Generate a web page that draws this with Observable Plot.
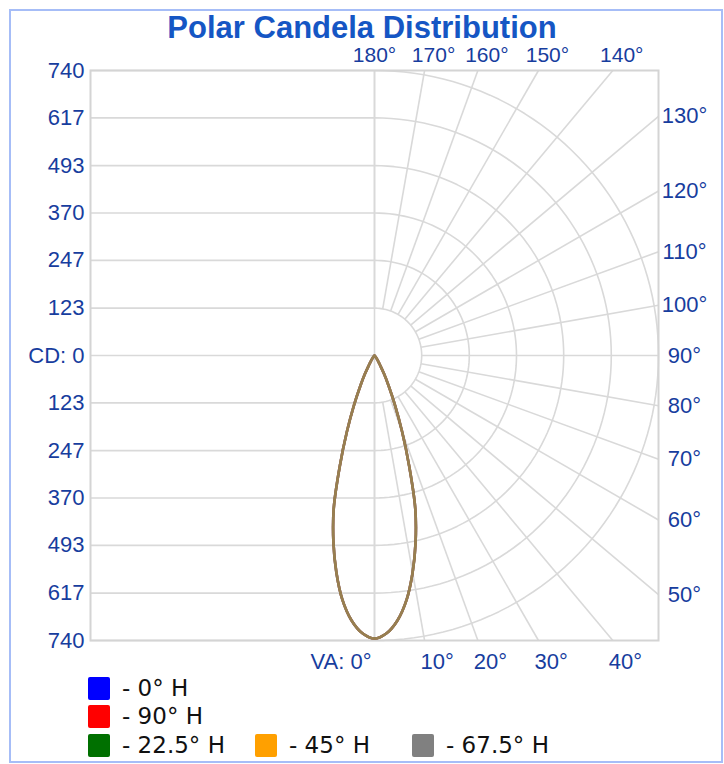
<!DOCTYPE html>
<html><head><meta charset="utf-8">
<script src="https://cdn.jsdelivr.net/npm/d3@7"></script>
<script src="https://cdn.jsdelivr.net/npm/@observablehq/plot@0.6"></script>
<style>
body{margin:0;background:#fff;font-family:"Liberation Sans",Arial,sans-serif;}
#frame{position:absolute;left:9px;top:9px;width:714px;height:754px;box-sizing:border-box;border:2px solid #a6bdf7;}
#title{position:absolute;left:0;top:12px;width:724px;text-align:center;font-weight:bold;font-size:31px;line-height:31px;color:#1556c4;}
#chart{position:absolute;left:0;top:40px;}
.leg{position:absolute;font-family:"DejaVu Sans",sans-serif;font-size:23px;line-height:24px;color:#111;display:flex;align-items:center;white-space:nowrap;}
.sw{display:inline-block;width:22px;height:23px;margin-right:12px;border-radius:2px;}
</style></head><body>
<div id="frame"></div>
<div id="title">Polar Candela Distribution</div>
<div id="chart"></div>
<div id="legend"></div>
<script>
// ---- data ----
const cdTicks = [0, 123, 247, 370, 493, 617, 740];
const vaAngles = [0,10,20,30,40,50,60,70,80,90,100,110,120,130,140,150,160,170,180];
const angles = [0,2.5,5,7.5,10,12.5,15,17.5,20,22.5,25,27.5,30,32.5,35,37.5,40,42.5,45,50,60,70,80,90];
const cd0H   = [735,722,690,640,572,495,410,300,210,140,88,55,30,18,10,5,2,0,0,0,0,0,0,0];
const cd90H  = [735,722,690,640,572,495,410,300,210,140,88,55,30,18,10,5,2,0,0,0,0,0,0,0];
const cd225H = [735,722,690,640,572,495,410,300,210,140,88,55,30,18,10,5,2,0,0,0,0,0,0,0];
const cd45H  = [735,722,690,640,572,495,410,300,210,140,88,55,30,18,10,5,2,0,0,0,0,0,0,0];
const cd675H = [735,722,690,640,572,495,410,300,210,140,88,55,30,18,10,5,2,0,0,0,0,0,0,0];
const seriesNames = ["0° H","90° H","22.5° H","45° H","67.5° H"];
const seriesColors = ["#0000ff","#ff0000","#007000","#ffa000","#808080"];
const seriesValues = [cd0H, cd90H, cd225H, cd45H, cd675H];

const R = 740;
const rad = d => d * Math.PI / 180;
const gridColor = "#d9d9d9";
const labelColor = "#173d9e";

// lobe points (mirrored for the opposite half-plane)
const lobe = [];
seriesNames.forEach((name, si) => {
  const vals = seriesValues[si];
  let last = vals.findIndex(v => v === 0);
  if (last < 0) last = vals.length - 1;
  const idx = d3.range(0, last + 1);
  const pts = [];
  idx.slice().reverse().forEach(i => pts.push({x: -vals[i]*Math.sin(rad(angles[i])), y: -vals[i]*Math.cos(rad(angles[i]))}));
  idx.slice(1).forEach(i => pts.push({x: vals[i]*Math.sin(rad(angles[i])), y: -vals[i]*Math.cos(rad(angles[i]))}));
  pts.forEach(p => lobe.push({...p, series: name}));
});

// grid geometry
const hLines = [...cdTicks.filter(v => v > 0).map(v => -v), ...cdTicks];
const arcs = [];
cdTicks.filter(v => v > 0).forEach(r => {
  for (let a = 0; a <= 180; a += 2) arcs.push({r, x: r*Math.sin(rad(a)), y: -r*Math.cos(rad(a))});
});
const r0 = cdTicks[1];
const radials = vaAngles.map(a => {
  const s = Math.sin(rad(a)), c = Math.cos(rad(a));
  const t = R / Math.max(Math.abs(s), Math.abs(c));
  return {a, x1: r0*s, y1: -r0*c, x2: t*s, y2: -t*c};
});
const leftLabels = [
  ...cdTicks.slice(1).map(v => ({y: v, t: String(v)})),
  {y: 0, t: "CD: 0"},
  ...cdTicks.slice(1).map(v => ({y: -v, t: String(v)}))
];
const bottomLab = radials.filter(d => d.a <= 40);
const rightLab = radials.filter(d => d.a >= 50 && d.a <= 130);
const topLab = radials.filter(d => d.a >= 140);

const font = "Liberation Sans, Arial, sans-serif";
const chart = Plot.plot({
  width: 724, height: 640,
  marginLeft: 90, marginRight: 66, marginTop: 30, marginBottom: 40,
  x: {domain: [-R, R], axis: null},
  y: {domain: [-R, R], axis: null},
  style: {fontFamily: font, background: "transparent", overflow: "visible"},
  marks: [
    Plot.ruleY(hLines, {y: d => d, x1: -R, x2: 0, stroke: gridColor, strokeWidth: 1.6}),
    Plot.ruleX([0], {stroke: gridColor, strokeWidth: 1.6}),
    Plot.line(arcs, {x: "x", y: "y", z: "r", stroke: gridColor, strokeWidth: 1.6}),
    Plot.link(radials, {x1: "x1", y1: "y1", x2: "x2", y2: "y2", stroke: gridColor, strokeWidth: 1.6}),
    Plot.frame({stroke: "#d4d4d4", strokeWidth: 2}),
    ...seriesNames.map((name, i) => Plot.line(lobe.filter(d => d.series === name), {
      x: "x", y: "y", stroke: seriesColors[i], strokeWidth: 2.6, strokeOpacity: 0.55, curve: "catmull-rom"
    })),
    Plot.text(leftLabels, {x: -R, y: "y", text: "t", textAnchor: "end", dx: -6, fontSize: 22, fill: labelColor}),
    Plot.text(bottomLab.filter(d => d.a > 0), {x: "x2", y: "y2", text: d => d.a + "°", textAnchor: "start", dx: -4, dy: 21, fontSize: 22, fill: labelColor}),
    Plot.text(bottomLab.filter(d => d.a === 0), {x: "x2", y: "y2", text: d => "VA: " + d.a + "°", textAnchor: "end", dx: -3, dy: 21, fontSize: 22, fill: labelColor, letterSpacing: "-0.5px"}),
    Plot.text(rightLab, {x: "x2", y: "y2", text: d => d.a + "°", textAnchor: "middle", dx: 26, fontSize: 22, fill: labelColor}),
    Plot.text(topLab.filter(d => d.a === 180), {x: "x2", y: "y2", text: d => d.a + "°", textAnchor: "middle", dy: -15, fontSize: 21, letterSpacing: "-0.6px", fill: labelColor}),
    Plot.text(topLab.filter(d => d.a < 180), {x: "x2", y: "y2", text: d => d.a + "°", textAnchor: "middle", dx: 9, dy: -15, fontSize: 21, letterSpacing: "-0.6px", fill: labelColor})
  ]
});
document.getElementById("chart").appendChild(chart);

// legend
const legPos = [
  {left: 88, top: 676}, {left: 88, top: 704},
  {left: 88, top: 733}, {left: 255, top: 733}, {left: 412, top: 733}
];
const leg = document.getElementById("legend");
seriesNames.forEach((n, i) => {
  const d = document.createElement("div");
  d.className = "leg";
  d.style.left = legPos[i].left + "px";
  d.style.top = legPos[i].top + "px";
  d.innerHTML = `<span class="sw" style="background:${seriesColors[i]}"></span><span>- ${n}</span>`;
  leg.appendChild(d);
});
</script>
</body></html>
